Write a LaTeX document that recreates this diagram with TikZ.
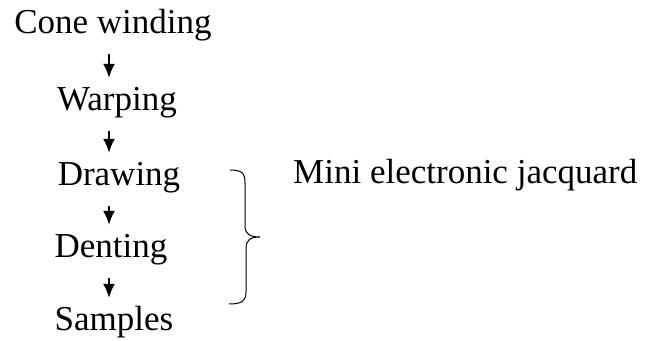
\documentclass[tikz,border=0pt]{standalone}
\usepackage{xcolor}
\usepackage{fontspec}
\setmainfont{Liberation Serif}
\usepackage{tikz}
\usetikzlibrary{arrows.meta, positioning}

\tikzset{
  stagetext/.style={inner sep=0pt, anchor=base, text height=24pt, text depth=8pt,
                    font=\fontsize{35}{42}\selectfont},
  flowarrow/.style={line width=1.8pt, -{Latex[length=14pt,width=12pt]},
                    shorten <=13pt, shorten >=8pt},
  jacbrace/.style={line width=1pt}
}

\begin{document}
\begin{tikzpicture}[x=1pt, y=-1pt]
    \useasboundingbox (0,0) rectangle (658,340);
    \coordinate (spine) at (109,0);
    \node[stagetext] (cone) at (113,33) {Cone winding};
    \node[stagetext] (warp) at (117,110) {Warping};
    \node[stagetext] (drawing) at (119,185) {Drawing};
    \node[stagetext] (denting) at (111,257) {Denting};
    \node[stagetext] (samples) at (114,330) {Samples};
    \draw[flowarrow] (cone.south -| spine) -- (warp.north -| spine);
    \draw[flowarrow] (warp.south -| spine) -- (drawing.north -| spine);
    \draw[flowarrow] (drawing.south -| spine) -- (denting.north -| spine);
    \draw[flowarrow] (denting.south -| spine) -- (samples.north -| spine);
    \coordinate (bracetop) at (230,170);
    \coordinate (bracetip) at (260,237);
    \coordinate (bracebot) at (229,304);
    \draw[jacbrace] (bracetop) .. controls (242,170) and (245,173) .. (245,183)
      -- (245,226) .. controls (245,234) and (250,237) .. (bracetip)
      .. controls (250,237) and (246,240) .. (246,249)
      -- (246,292) .. controls (246,301) and (242,304) .. (bracebot);
    \node[stagetext, anchor=base west] (jacquard) at (293,183) {Mini electronic jacquard};
  \end{tikzpicture}
\end{document}
